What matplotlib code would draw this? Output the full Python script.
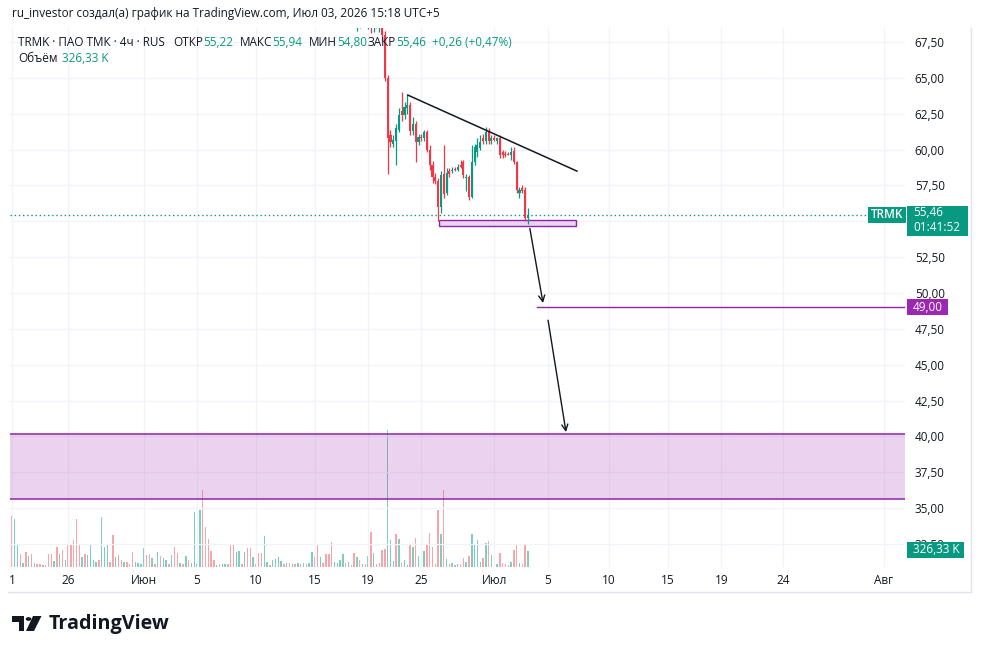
import numpy as np
import matplotlib.pyplot as plt
from matplotlib.patches import Rectangle, Polygon, Circle

plt.rcParams['font.family'] = ['Open Sans', 'DejaVu Sans']

# ---- data -------------------------------------------------------------
# 4h bars, index 0 = first bar on screen; candles start at bar 122
candle_start = 122
c_open = [70.3, 69.2, 69.6, 68.9, 69.2, 69.0, 69.5, 68.6, 69.0, 68.8,
          69.1, 68.0, 65.0, 61.0, 60.4, 60.6, 61.4, 62.7, 62.4, 62.9,
          63.1, 61.3, 61.8, 60.5, 60.9, 60.8, 61.2, 60.0, 58.9, 58.1,
          57.8, 56.0, 58.3, 57.0, 58.5, 58.5, 58.65, 58.6, 58.9, 59.1,
          58.0, 58.1, 56.7, 59.1, 59.8, 60.1, 60.8, 60.6, 61.2, 60.6,
          60.8, 60.6, 60.8, 59.8, 59.7, 59.7, 59.6, 59.9, 59.1, 57.0,
          57.3, 57.2, 55.22]
c_high = [70.5, 69.9, 69.8, 69.4, 69.4, 69.8, 69.7, 69.3, 69.2, 69.4,
          69.3, 68.3, 65.2, 61.4, 61.0, 61.8, 62.9, 64.0, 63.3, 63.9,
          63.3, 62.3, 62.0, 61.1, 61.1, 61.4, 61.4, 60.3, 59.2, 58.4,
          58.0, 58.5, 60.3, 58.7, 58.7, 58.8, 58.8, 59.0, 59.3, 59.3,
          58.3, 58.2, 60.3, 60.4, 60.8, 61.0, 61.1, 61.6, 61.5, 61.0,
          61.0, 60.9, 61.0, 60.0, 59.9, 59.8, 60.2, 60.2, 59.2, 57.4,
          57.5, 57.4, 55.94]
c_low = [68.9, 68.3, 68.5, 68.6, 68.7, 68.4, 68.1, 68.2, 68.5, 68.2,
         67.6, 64.8, 58.3, 60.2, 60.2, 58.9, 61.2, 62.0, 62.1, 62.5,
         61.0, 61.0, 59.1, 60.3, 60.6, 60.6, 59.8, 58.6, 57.7, 57.6,
         55.0, 55.6, 56.6, 56.8, 58.1, 58.4, 58.5, 58.5, 58.7, 58.0,
         57.1, 56.5, 56.6, 58.9, 59.5, 60.0, 60.4, 60.4, 60.4, 60.4,
         60.6, 60.4, 59.4, 59.4, 59.5, 59.6, 59.3, 59.0, 57.0, 56.6,
         57.0, 55.0, 54.80]
c_close = [69.2, 69.6, 68.9, 69.2, 69.0, 69.5, 68.6, 69.0, 68.8, 69.1,
           68.0, 65.0, 60.8, 60.5, 60.7, 61.5, 62.4, 62.4, 63.0, 63.1,
           61.3, 61.8, 60.5, 60.9, 60.8, 61.2, 60.0, 58.9, 58.1, 57.8,
           56.0, 58.2, 56.9, 58.4, 58.3, 58.6, 58.6, 58.8, 58.8, 58.2,
           58.1, 56.7, 59.1, 60.2, 60.3, 60.5, 60.6, 61.2, 60.6, 60.8,
           60.7, 60.8, 59.6, 59.6, 59.6, 59.65, 59.8, 59.1, 57.2, 57.2,
           57.1, 55.2, 55.46]

# volume, thousands of shares, one per bar
volume_k = [1020, 960, 460, 260, 80, 300, 220, 260, 80, 60, 60, 40, 40, 260, 260,
            120, 400, 260, 340, 140, 440, 440, 540, 960, 440, 200, 260, 240, 440, 140,
            100, 140, 1000, 400, 440, 100, 640, 200, 240, 140, 100, 100, 60, 300, 100,
            80, 60,
            380, 240, 260, 180, 60, 300, 220, 180, 140, 60, 240, 400, 280, 80, 60,
            220, 140, 80, 1100, 60, 1140, 1540, 800, 560, 320, 140, 40, 60, 60, 60,
            60, 440, 460, 300, 320, 60, 300, 380, 380, 200, 60, 280, 280, 620, 100,
            40, 140,
            160, 200, 120, 60, 80, 80, 60, 60, 80, 60, 80, 60, 80, 300, 200,
            440, 200, 80, 260, 260, 500, 100, 80, 140, 260, 80, 100, 40, 280, 200,
            140, 60, 60, 220, 700, 280, 60, 80, 340, 360, 2740, 540, 120, 660, 560,
            80, 140,
            40, 460, 400, 580, 220, 60, 320, 440, 680, 400, 60, 1140, 660, 1540, 160,
            60, 80, 40, 60, 60, 180, 100, 220, 660, 440, 540, 100, 180, 480, 520,
            240, 80, 60, 280, 80, 60, 40, 100, 340, 440, 80, 60, 440, 326.33]
# t = up bar, r = down bar
volume_dir = ("rttrtrtrtrrtrrrtrtrtrrrrrtrttttrtttrrtrrtrrrttt"
              "trrtrtrttrtrrtrtrttttrrrrrtrttrrrttrtrrtrrrttrt"
              "tttrtrtrtrtrttrrtrrrrttttrtrrtrtrtrtrrrrtttrt"
              "rt"
              "trtrtrtrrrrrtrtrtrtrrtrttttrtrtrtrrrrtrrtrrt")

tick_pos = [0, 20, 47, 66, 87, 108, 127, 146, 172, 191, 213, 234, 253, 275, 311]
tick_labels = ['1', '26', 'Июн', '5', '10', '15', '19', '25', 'Июл', '5',
               '10', '15', '19', '24', 'Авг']
price_ticks = [32.5, 35, 37.5, 40, 42.5, 45, 47.5, 50, 52.5, 55, 57.5, 60, 62.5, 65, 67.5]

last_price = 55.46
target_price = 49.0
zone_low, zone_high = 35.63, 40.16
box_x, box_low, box_high = [152.3, 201.1], 54.67, 55.09
trend_x, trend_y = [141.2, 201.5], [63.8, 58.5]
arrow1 = [(184.7, 54.5), (189.4, 49.3)]
arrow2 = [(191.2, 48.1), (197.6, 40.3)]
target_start = 187.2

UP = '#089981'
DN = '#f23645'
PURPLE = '#9c27b0'
TXT = '#131722'

W, H = 982, 654
fig = plt.figure(figsize=(W / 100, H / 100), dpi=100)


def fx(x):
    return x / W


def fy(y):
    return 1 - y / H


ax = fig.add_axes([fx(10), fy(567), fx(905) - fx(10), fy(28) - fy(567)])
vax = ax.twinx()
ax.set_zorder(vax.get_zorder() + 1)
ax.patch.set_visible(False)

xlim = (-0.7, 318.5)
ax.set_xlim(*xlim)
ax.set_ylim(30.89, 68.48)

# volume
vidx = np.arange(len(volume_k))
vcol = ['#7fccc0' if d == 't' else '#f7a5a8' for d in volume_dir[:len(volume_k)]]
vax.bar(vidx, volume_k, width=0.5, color=vcol, linewidth=0)
vax.set_ylim(0, 10780)
vax.set_axis_off()

# candles
o = np.array(c_open)
hh = np.array(c_high)
ll = np.array(c_low)
c = np.array(c_close)
cidx = np.arange(candle_start, candle_start + len(o))
ccol = np.where(c >= o, UP, DN)
ax.vlines(cidx, ll, hh, colors=ccol, linewidth=0.9, zorder=4)
ax.bar(cidx, np.maximum(np.abs(c - o), 0.06), bottom=np.minimum(o, c), width=0.75,
       color=ccol, linewidth=0, zorder=5)

# drawings
ax.axhspan(zone_low, zone_high, color=PURPLE, alpha=0.2, lw=0, zorder=2)
ax.axhline(zone_low, color='#8e24aa', lw=1.1, zorder=3)
ax.axhline(zone_high, color='#8e24aa', lw=1.1, zorder=3)
ax.add_patch(Rectangle((box_x[0], box_low), box_x[1] - box_x[0], box_high - box_low,
                       fc='#ebd4ef', ec='#8e24aa', lw=1, zorder=3))
ax.plot(trend_x, trend_y, color=TXT, lw=1.1, zorder=6)
ax.plot([target_start, xlim[1]], [target_price, target_price], color='#8e24aa', lw=1, zorder=3)
for a in (arrow1, arrow2):
    ax.annotate('', xy=a[1], xytext=a[0],
                arrowprops=dict(arrowstyle='->', color=TXT, lw=1, mutation_scale=11, shrinkA=0, shrinkB=0))
ax.axhline(last_price, color=UP, lw=1, ls=(0, (1, 2)), zorder=3)

# axes look
ax.set_xticks(tick_pos)
ax.set_xticklabels(tick_labels)
ax.yaxis.tick_right()
ax.set_yticks(price_ticks)
# 55,00 sits under the last-price tag in the original, so it is left blank
ax.set_yticklabels(['' if p == 55 else f'{p:.2f}'.replace('.', ',') for p in price_ticks])
ax.tick_params(axis='both', length=0, labelsize=8.5, colors=TXT)
ax.tick_params(axis='x', pad=5)
ax.tick_params(axis='y', pad=7)
ax.grid(color='#f0f3fa', lw=0.9)
ax.set_axisbelow(True)
for s in ax.spines.values():
    s.set_visible(False)

fig.canvas.draw()
renderer = fig.canvas.get_renderer()


def tag_px(axis, value):
    return H - axis.transData.transform((0, value))[1]   # pixel row from top


def tag(x0, x1, y0, y1, color):
    fig.add_artist(Rectangle((fx(x0), fy(y1)), (x1 - x0) / W, (y1 - y0) / H,
                             transform=fig.transFigure, fc=color, ec='none', zorder=5))


# price scale tags
yl = tag_px(ax, last_price)
tag(868, 906, yl - 8, yl + 8, UP)
fig.text(fx(887), fy(yl), 'TRMK', color='white', fontsize=8.5, ha='center', va='center',
         weight='semibold', zorder=6)
tag(907, 968, yl - 9, yl + 21, UP)
fig.text(fx(913), fy(yl - 2), '55,46', color='white', fontsize=8.5, ha='left', va='center', zorder=6)
fig.text(fx(913), fy(yl + 13), '01:41:52', color='white', fontsize=8.5, ha='left', va='center', zorder=6)

yt = tag_px(ax, target_price)
tag(907, 948, yt - 8, yt + 8, PURPLE)
fig.text(fx(913), fy(yt), '49,00', color='white', fontsize=8.5, ha='left', va='center', zorder=6)

yv = tag_px(vax, volume_k[-1])
tag(907, 964, yv - 9, yv + 7, UP)
fig.text(fx(913), fy(yv - 1), '326,33 K', color='white', fontsize=8.5, ha='left', va='center', zorder=6)

# frame
fig.add_artist(plt.Line2D([fx(971), fx(971)], [fy(28), fy(592)], color='#e0e3eb', lw=1))
fig.add_artist(plt.Line2D([fx(8), fx(971)], [fy(592), fy(592)], color='#e0e3eb', lw=1))

# header and legend
fig.text(fx(12), fy(14), 'ru_investor создал(а) график на TradingView.com, Июл 03, 2026 15:18 UTC+5',
         fontsize=8.5, color=TXT, va='center')

legend = [(18, 'TRMK · ПАО ТМК · 4ч · RUS', ''), (173, 'ОТКР', '55,22'), (240, 'МАКС', '55,94'),
          (309, 'МИН', '54,80'), (368, 'ЗАКР', '55,46'), (432, '', '+0,26 (+0,47%)')]
for x, lab, val in legend:
    x_end = x
    if lab:
        t = fig.text(fx(x), fy(42), lab, fontsize=8.5, color=TXT, va='center')
        x_end = x + t.get_window_extent(renderer).width
    if val:
        fig.text(fx(x_end), fy(42), val, fontsize=8.5, color=UP, va='center')
fig.text(fx(18), fy(58), 'Объём', fontsize=8.5, color=TXT, va='center')
fig.text(fx(62), fy(58), '326,33 K', fontsize=8.5, color=UP, va='center')


# TradingView logo
def P(x, y):
    return (fx(x), fy(y))


logo = '#131722'
fig.add_artist(Polygon([P(12, 616), P(24, 616), P(24, 631), P(18.5, 631), P(18.5, 621.5), P(12, 621.5)],
                       closed=True, transform=fig.transFigure, fc=logo, ec='none'))
fig.add_artist(Circle(P(28.5, 619), 2.8 / W, transform=fig.transFigure, fc=logo, ec='none'))
fig.add_artist(Polygon([P(33, 616), P(41.5, 616), P(34, 631), P(26, 631)],
                       closed=True, transform=fig.transFigure, fc=logo, ec='none'))
fig.text(fx(49), fy(624), 'TradingView', fontsize=14.2, weight='bold', color=logo, va='center')

fig.savefig('out.png', dpi=100, facecolor='white')
